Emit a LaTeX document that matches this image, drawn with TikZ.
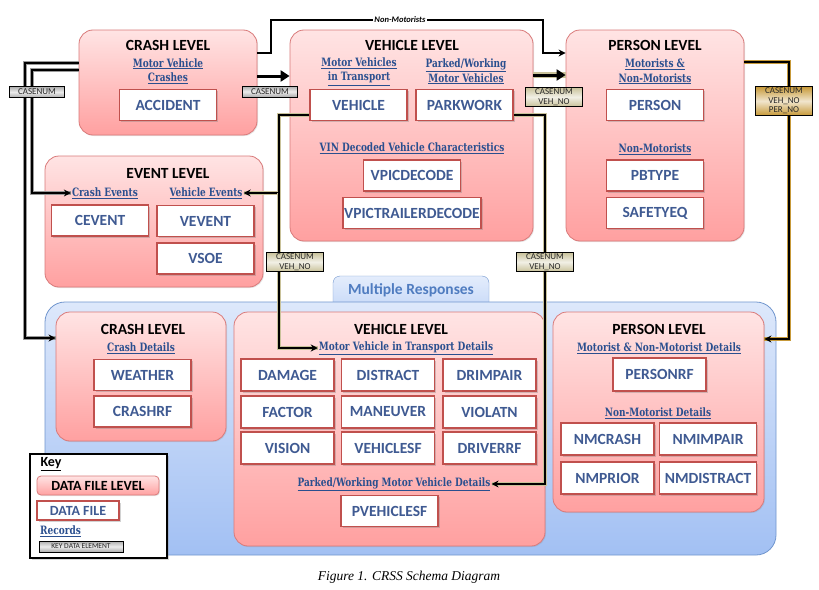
\documentclass[tikz,border=0pt]{standalone}
\usepackage{fontspec}
\setmainfont{Carlito}
\newfontfamily\subfont[FakeStretch=0.78]{DejaVu Serif}
\newfontfamily\capfont{Liberation Serif}
\usetikzlibrary{arrows.meta,shadows}

\definecolor{lvltop}{HTML}{FFE4E4}
\definecolor{lvlbot}{HTML}{FFA0A0}
\definecolor{lvlline}{HTML}{D97A7A}
\definecolor{fileline}{HTML}{C0504D}
\definecolor{filetext}{HTML}{3F5A92}
\definecolor{subtext}{HTML}{2A4F8F}
\definecolor{bluetop}{HTML}{DDE8FB}
\definecolor{bluebot}{HTML}{A2C0F3}
\definecolor{blueline}{HTML}{7196CE}
\definecolor{tabtext}{HTML}{4F7CC0}
\definecolor{casegray}{HTML}{9A9A9A}
\definecolor{casetan}{HTML}{C9C29A}
\definecolor{casegold}{HTML}{C79A3A}

\tikzset{
  levelbox/.style={draw=lvlline, line width=0.8pt, rounded corners=14pt,
    top color=lvltop, bottom color=lvlbot, inner sep=0pt,
    drop shadow={opacity=0.2, shadow xshift=1pt, shadow yshift=-1pt}},
  leveltitle/.style={font=\bfseries\fontsize{15.5}{17}\selectfont, inner sep=0pt},
  filebox/.style={draw=fileline, line width=1.8pt, fill=white,
    minimum width=97pt, minimum height=31pt, inner sep=0pt,
    font=\bfseries\fontsize{15.5}{17}\selectfont, text=filetext,
    drop shadow={opacity=0.35, shadow xshift=1.5pt, shadow yshift=-1.5pt}},
  subhead/.style={font=\subfont\bfseries\fontsize{11.5}{14.5}\selectfont,
    text=subtext, align=center, inner sep=0pt},
  keytag/.style={draw=black, line width=0.6pt, inner sep=1.2pt, align=center,
    font=\fontsize{9}{9.5}\selectfont, text=black!85},
  graytag/.style={keytag, minimum width=55pt, minimum height=11pt,
    top color=gray!65, bottom color=gray!65, middle color=gray!15},
  tantag/.style={keytag, minimum width=57pt, top color=casetan, bottom color=casetan, middle color=casetan!25},
  goldtag/.style={keytag, minimum width=57pt, top color=casegold, bottom color=casegold, middle color=casegold!25},
  bigarrow/.style={line width=3pt, -{Triangle[length=9pt,width=11pt]}},
  keyline/.style={line width=1.3pt, -{Stealth[length=7pt,width=7pt]},
    preaction={draw=#1, line width=4.5pt, -}},
  keyline/.default=casegray
}

\begin{document}
\begin{tikzpicture}[x=1pt,y=-1pt]
  \useasboundingbox (0,0) rectangle (819,589);
  \fill[white] (0,0) rectangle (819,589);

  % multiple responses panel
  \node[draw=blueline, top color=bluetop!80!white, bottom color=bluetop!60!bluebot,
    rounded corners=7pt, minimum width=156pt, minimum height=34pt] (tab) at (411,293) {};
  \node[draw=blueline, line width=0.8pt, rounded corners=20pt, top color=bluetop,
    bottom color=bluebot, minimum width=731pt, minimum height=253pt] (multi) at (410.5,428.5) {};
  \node[font=\bfseries\fontsize{15.5}{17}\selectfont, text=tabtext] (tabtext) at (411,290) {Multiple Responses};

  % top row
  \node[levelbox, minimum width=178pt, minimum height=105pt] (crashtop) at (168,82.5) {};
  \node[leveltitle] (crashtoptitle) at (168,45) {CRASH LEVEL};
  \node[subhead] (mvcrash) at (168,71) {\underline{Motor Vehicle}\\\underline{Crashes}};
  \node[filebox] (accident) at (168,105) {ACCIDENT};

  \node[levelbox, minimum width=243pt, minimum height=211pt] (vehtop) at (411.5,135.5) {};
  \node[leveltitle] (vehtoptitle) at (412,45) {VEHICLE LEVEL};
  \node[subhead] (mvtrans) at (359,71.5) {\underline{Motor Vehicles}\\\underline{in Transport}};
  \node[subhead] (pwmv) at (466,71.5) {\underline{Parked/Working}\\\underline{Motor Vehicles}};
  \node[filebox] (vehicle) at (358.5,105) {VEHICLE};
  \node[filebox] (parkwork) at (464.5,105) {PARKWORK};
  \node[subhead] (vindec) at (412,148) {\underline{VIN Decoded Vehicle Characteristics}};
  \node[filebox] (vpicdecode) at (412,175.5) {VPICDECODE};
  \node[filebox, minimum width=138pt] (vpictrailer) at (412,213) {VPICTRAILERDECODE};

  \node[levelbox, minimum width=178pt, minimum height=211pt] (pertop) at (655,135.5) {};
  \node[leveltitle] (pertoptitle) at (655,45) {PERSON LEVEL};
  \node[subhead] (motnm) at (655,71.5) {\underline{Motorists \&}\\\underline{Non-Motorists}};
  \node[filebox] (person) at (655,105) {PERSON};
  \node[subhead] (nonmot) at (655,149) {\underline{Non-Motorists}};
  \node[filebox] (pbtype) at (655,175.5) {PBTYPE};
  \node[filebox] (safetyeq) at (655,213) {SAFETYEQ};

  % event level
  \node[levelbox, minimum width=218pt, minimum height=131pt] (event) at (154,221.5) {};
  \node[leveltitle] (eventtitle) at (168,173) {EVENT LEVEL};
  \node[subhead] (crashev) at (105,193) {\underline{Crash Events}};
  \node[subhead] (vehev) at (206,193) {\underline{Vehicle Events}};
  \node[filebox] (cevent) at (100,220.5) {CEVENT};
  \node[filebox] (vevent) at (205.5,221) {VEVENT};
  \node[filebox] (vsoe) at (205.5,258.5) {VSOE};

  % bottom row
  \node[levelbox, minimum width=170pt, minimum height=129pt] (crashbot) at (141,376.5) {};
  \node[leveltitle] (crashbottitle) at (143,329) {CRASH LEVEL};
  \node[subhead] (crashdet) at (141,348) {\underline{Crash Details}};
  \node[filebox] (weather) at (142.5,375) {WEATHER};
  \node[filebox] (crashrf) at (142.5,411.5) {CRASHRF};

  \node[levelbox, minimum width=311pt, minimum height=234pt] (vehbot) at (389.5,429) {};
  \node[leveltitle] (vehbottitle) at (401,329) {VEHICLE LEVEL};
  \node[subhead] (mvtdet) at (406,348) {\underline{Motor Vehicle in Transport Details}};
  \foreach \name/\col/\row in {DAMAGE/287.5/375, DISTRACT/388/375, DRIMPAIR/489.5/375,
      FACTOR/287.5/412, MANEUVER/388/412, VIOLATN/489.5/412,
      VISION/287.5/448, VEHICLESF/388/448, DRIVERRF/489.5/448}
    \node[filebox, minimum width=93pt, minimum height=32pt] (\name) at (\col,\row) {\name};
  \node[subhead] (pwdet) at (394,484) {\underline{Parked/Working Motor Vehicle Details}};
  \node[filebox] (pvehiclesf) at (389.5,511) {PVEHICLESF};

  \node[levelbox, minimum width=211pt, minimum height=200pt] (perbot) at (658.5,412) {};
  \node[leveltitle] (perbottitle) at (659,329) {PERSON LEVEL};
  \node[subhead] (mnmdet) at (659,348) {\underline{Motorist \& Non-Motorist Details}};
  \node[filebox, minimum width=93pt, minimum height=33pt] (personrf) at (659.5,374.5) {PERSONRF};
  \node[subhead] (nmdet) at (658,413) {\underline{Non-Motorist Details}};
  \node[filebox, minimum width=93pt, minimum height=32pt] (nmcrash) at (607.5,439) {NMCRASH};
  \node[filebox, minimum width=97pt, minimum height=32pt] (nmimpair) at (708,439) {NMIMPAIR};
  \node[filebox, minimum width=93pt, minimum height=32pt] (nmprior) at (607.5,478) {NMPRIOR};
  \node[filebox, minimum width=97pt, minimum height=32pt] (nmdistract) at (708,478) {NMDISTRACT};

  % key
  \node[draw, line width=1.5pt, fill=white, minimum width=137pt, minimum height=104pt,
    drop shadow={opacity=0.3, shadow xshift=1.5pt, shadow yshift=-1.5pt}] (keybox) at (98.5,506) {};
  \node[font=\bfseries\fontsize{14}{16}\selectfont, inner sep=0pt] (keytitle) at (51,464) {\underline{Key}};
  \node[levelbox, rounded corners=4pt, minimum width=122pt, minimum height=19pt,
    font=\bfseries\fontsize{14}{16}\selectfont] (keylevel) at (98,485.5) {DATA FILE LEVEL};
  \node[filebox, line width=1.5pt, minimum width=82pt, minimum height=19pt,
    font=\bfseries\fontsize{14}{16}\selectfont] (keyfile) at (78,510.5) {DATA FILE\hspace{8pt}};
  \node[subhead] (keyrec) at (60.5,531) {\underline{Records}};
  \node[graytag, minimum width=84pt, minimum height=11pt, inner sep=0.5pt,
    font=\fontsize{7.5}{8}\selectfont] (keyelem) at (81,546.5) {KEY DATA ELEMENT};

  % connectors
  \draw[bigarrow] (crashtop.east |- 0,76) -- (vehtop.west |- 0,76);
  \node[graytag] (casenumA) at (270,91.5) {CASENUM};

  \draw[line width=1.3pt, -{Stealth[length=7pt,width=7pt]}]
    (crashtop.east |- 0,53) -| (271,20) -| (543,53) -- (pertop.west |- 0,53);
  \node[fill=white, inner sep=1pt, font=\bfseries\itshape\fontsize{8.5}{9}\selectfont] (nmlabel) at (400,20) {Non-Motorists};

  \draw[bigarrow, preaction={draw=casetan, line width=6pt, -}]
    (vehtop.east |- 0,75) -- (pertop.west |- 0,75);
  \node[tantag] (casenumB) at (554,97) {CASENUM\\VEH\_NO};

  \draw[keyline=casegold] (pertop.east |- 0,62) -| (789,339) -- (perbot.east |- 0,339);
  \node[goldtag] (casenumC) at (784,101) {CASENUM\\VEH\_NO\\PER\_NO};

  \draw[keyline] (crashtop.west |- 0,63) -| (25,338) -- (crashbot.west |- 0,338);
  \draw[keyline, shorten >=1pt] (crashtop.west |- 0,70) -| (32,193) -- (crashev.west);
  \node[graytag] (casenumD) at (37,92) {CASENUM};

  \coordinate (vehjoin) at (279,193);
  \draw[keyline=casetan, shorten >=1pt] (vehicle.west |- 0,115) -| (vehjoin) -- (vehev.east);
  \draw[keyline=casetan, shorten >=1pt] (vehjoin) |- (mvtdet.west);
  \node[tantag] (casenumE) at (295,262) {CASENUM\\VEH\_NO};

  \draw[keyline=casetan, shorten >=1pt] (parkwork.east |- 0,115) -| (545,484) -- (pwdet.east);
  \node[tantag] (casenumF) at (545,262) {CASENUM\\VEH\_NO};

  \node[font=\capfont\itshape\fontsize{13.5}{15}\selectfont] (caption) at (409,577) {Figure 1. CRSS Schema Diagram};
\end{tikzpicture}
\end{document}
